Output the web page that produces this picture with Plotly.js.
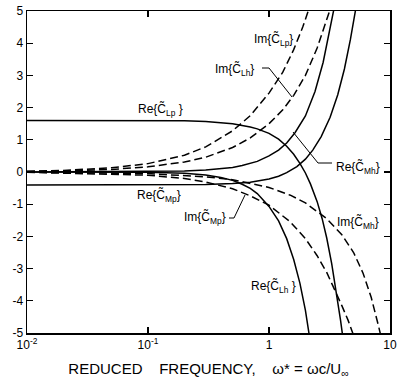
<!DOCTYPE html>
<html>
<head>
<meta charset="utf-8">
<script src="https://cdn.plot.ly/plotly-3.0.1.min.js"></script>
<style>html,body{margin:0;padding:0;background:#fff;}#chart{width:406px;height:384px;}</style>
</head>
<body>
<div id="chart"></div>
<script>
// Reduced frequency values (omega*) and curve values
const reCLp_x = [0.01, 0.1, 0.2, 0.3, 0.5, 0.7, 0.8, 1.0, 1.2, 1.4, 1.6, 1.8, 2.0, 2.2, 2.5, 2.75, 3.0, 3.3, 3.6, 3.9, 4.1];
const reCLp_y = [1.6, 1.6, 1.59, 1.57, 1.5, 1.4, 1.34, 1.2, 1.02, 0.8, 0.55, 0.27, -0.03, -0.37, -0.92, -1.45, -2.05, -2.85, -3.7, -4.6, -5.2];

const reCLh_x = [0.01, 0.1, 0.2, 0.3, 0.4, 0.5, 0.6, 0.7, 0.8, 1.0, 1.2, 1.4, 1.6, 1.8, 2.0, 2.2];
const reCLh_y = [0, -0.01, -0.04, -0.09, -0.17, -0.26, -0.38, -0.51, -0.67, -1.07, -1.52, -2.07, -2.72, -3.45, -4.3, -5.3];

const reCMh_x = [0.01, 0.1, 0.2, 0.3, 0.4, 0.5, 0.6, 0.8, 1.0, 1.2, 1.4, 1.64, 2.0, 2.4, 2.8, 3.2, 3.5];
const reCMh_y = [0, 0.01, 0.03, 0.06, 0.1, 0.14, 0.2, 0.33, 0.5, 0.68, 0.9, 1.22, 1.74, 2.5, 3.4, 4.4, 5.2];

const reCMp_x = [0.01, 0.1, 0.3, 0.5, 0.7, 1.0, 1.2, 1.4, 1.7, 2.0, 2.3, 2.7, 3.2, 3.7, 4.2, 4.7, 5.2, 5.4];
const reCMp_y = [-0.4, -0.4, -0.39, -0.36, -0.32, -0.22, -0.13, -0.02, 0.17, 0.4, 0.68, 1.1, 1.7, 2.4, 3.2, 4.1, 5.0, 5.4];

const imCLp_x = [0.01, 0.02, 0.05, 0.1, 0.2, 0.3, 0.5, 0.7, 1.0, 1.3, 1.6, 1.9, 2.2];
const imCLp_y = [0.025, 0.05, 0.13, 0.26, 0.52, 0.78, 1.28, 1.75, 2.45, 3.1, 3.8, 4.5, 5.2];

const imCLh_x = [0.01, 0.02, 0.05, 0.1, 0.2, 0.3, 0.5, 0.7, 1.0, 1.3, 1.6, 2.0, 2.5, 3.0, 3.3];
const imCLh_y = [0.016, 0.03, 0.08, 0.16, 0.31, 0.46, 0.76, 1.06, 1.5, 1.93, 2.38, 3.0, 3.85, 4.7, 5.2];

const imCMp_x = [0.01, 0.1, 0.2, 0.3, 0.5, 0.7, 1.0, 1.5, 2.0, 2.5, 3.0, 3.5, 4.0, 4.5, 5.0, 5.2];
const imCMp_y = [-0.01, -0.1, -0.2, -0.31, -0.52, -0.74, -1.03, -1.55, -2.07, -2.6, -3.12, -3.65, -4.15, -4.6, -5.05, -5.25];

const imCMh_x = [0.01, 0.1, 0.3, 0.5, 1.0, 1.5, 2.0, 3.0, 4.0, 5.0, 6.0, 7.0, 8.0, 8.6];
const imCMh_y = [-0.005, -0.05, -0.15, -0.24, -0.48, -0.72, -0.96, -1.45, -1.95, -2.5, -3.15, -3.9, -4.75, -5.25];

const xTickVals = [0.01, 0.1, 1, 10];
const xTickText = ["10<sup>-2</sup>", "10<sup>-1</sup>", "1", "10"];
const yTickVals = [-5, -4, -3, -2, -1, 0, 1, 2, 3, 4, 5];
const yTickText = ["-5", "-4", "-3", "-2", "-1", "0", "1", "2", "3", "4", "5"];

const FONT = "Liberation Sans, Arial, Helvetica, sans-serif";
const solid = {color: "#000", width: 1.5};
const dashed = {color: "#000", width: 1.5, dash: "8px,4px"};

function tr(x, y, line) {
  return {x: x, y: y, type: "scatter", mode: "lines", line: line, hoverinfo: "skip", showlegend: false};
}

const data = [
  tr(reCLp_x, reCLp_y, solid),
  tr(reCLh_x, reCLh_y, solid),
  tr(reCMh_x, reCMh_y, solid),
  tr(reCMp_x, reCMp_y, solid),
  tr(imCLp_x, imCLp_y, dashed),
  tr(imCLh_x, imCLh_y, dashed),
  tr(imCMp_x, imCMp_y, dashed),
  tr(imCMh_x, imCMh_y, dashed)
];

// pixel -> paper helpers for labels/leaders
const L = 27, R = 390, T = 11, B = 333;
const px = p => (p - L) / (R - L);
const py = p => (B - p) / (B - T);

function lbl(text, x, y, xanchor) {
  return {text: text, x: px(x), y: py(y), xref: "paper", yref: "paper", showarrow: false,
          xanchor: xanchor || "center", yanchor: "middle", font: {family: FONT, size: 12, color: "#000"}};
}
function seg(x0, y0, x1, y1) {
  return {type: "line", xref: "paper", yref: "paper", x0: px(x0), y0: py(y0), x1: px(x1), y1: py(y1),
          line: {color: "#000", width: 1}};
}

const C = "C\u0303";
const annotations = [
  lbl("Re{" + C + "<sub>Lp</sub> }", 160, 110),
  lbl("Im{" + C + "<sub>Lp</sub>}", 273, 39),
  lbl("Im{" + C + "<sub>Lh</sub>}", 256, 70, "right"),
  lbl("Re{" + C + "<sub>Mh</sub>}", 334, 167, "left"),
  lbl("Re{" + C + "<sub>Mp</sub>}", 159, 195),
  lbl("Im{" + C + "<sub>Mp</sub>}", 228, 218, "right"),
  lbl("Im{" + C + "<sub>Mh</sub>}", 358, 222),
  lbl("Re{" + C + "<sub>Lh</sub> }", 273, 286)
];

const shapes = [
  seg(262, 68, 269, 68), seg(269, 68, 292, 97),
  seg(293, 132, 318, 163), seg(318, 163, 332, 163),
  seg(229, 218, 234, 218), seg(234, 218, 245, 195)
];

const layout = {
  width: 406, height: 384,
  margin: {l: L, r: 406 - R, t: T, b: 384 - B, pad: 0},
  paper_bgcolor: "#fff", plot_bgcolor: "#fff",
  font: {family: FONT, size: 12, color: "#000"},
  showlegend: false,
  xaxis: {
    type: "log", range: [-2, 1],
    tickvals: xTickVals, ticktext: xTickText,
    ticks: "inside", ticklen: 6, tickwidth: 1.2, tickcolor: "#000",
    showline: true, linecolor: "#000", linewidth: 1.5, mirror: "ticks",
    showgrid: false, zeroline: false,
    tickfont: {family: FONT, size: 12, color: "#000"},
    title: {text: "REDUCED\u00a0\u00a0\u00a0\u00a0FREQUENCY,\u00a0\u00a0\u00a0\u00a0\u03c9* = \u03c9c/U<sub>\u221e</sub>",
            font: {family: FONT, size: 15, color: "#000"}, standoff: 12}
  },
  yaxis: {
    range: [-5, 5],
    tickvals: yTickVals, ticktext: yTickText,
    ticks: "inside", ticklen: 6, tickwidth: 1.2, tickcolor: "#000",
    showline: true, linecolor: "#000", linewidth: 1.5, mirror: "ticks",
    showgrid: false, zeroline: false,
    tickfont: {family: FONT, size: 12, color: "#000"}
  },
  annotations: annotations,
  shapes: shapes
};

Plotly.newPlot("chart", data, layout, {staticPlot: true, displayModeBar: false});
</script>
</body>
</html>
